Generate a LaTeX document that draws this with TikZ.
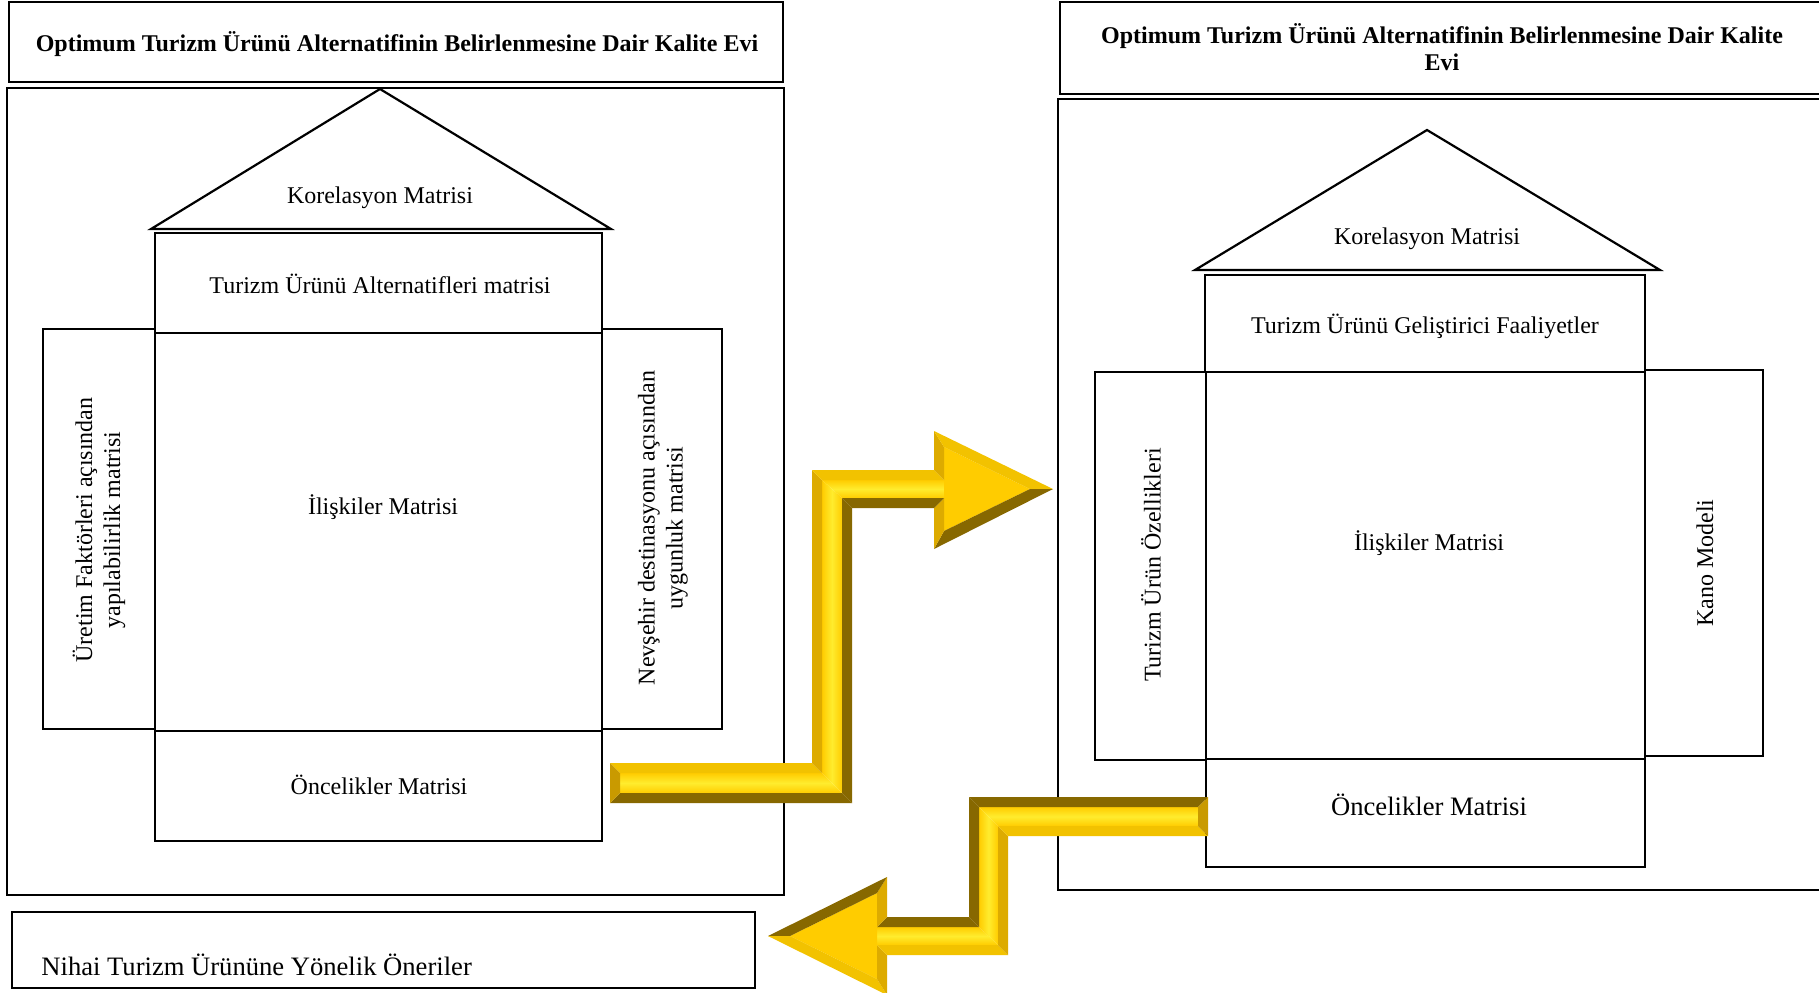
\documentclass[tikz,border=0pt]{standalone}
\usepackage{fontspec}
\setmainfont{Liberation Serif}
\definecolor{goldface}{HTML}{FFCC00}
\definecolor{goldshine}{HTML}{FFEC2E}
\definecolor{goldtop}{HTML}{F2C200}
\definecolor{goldside}{HTML}{DDAB00}
\definecolor{goldend}{HTML}{C99A00}
\definecolor{golddark}{HTML}{876800}
\tikzset{
  hqframe/.style={draw,line width=1.4pt},
  matline/.style={draw,line width=1.1pt},
  hqlab/.style={font=\fontsize{12}{14}\selectfont,inner sep=0pt},
  hqvlab/.style={hqlab,rotate=90,align=center},
  hqbig/.style={font=\fontsize{13.3}{15}\selectfont,inner sep=0pt},
  hqtitle/.style={font=\bfseries\fontsize{12}{13.4}\selectfont,align=center,inner sep=0pt},
  hbar/.style={top color=goldface,bottom color=goldface,middle color=goldshine},
  vbar/.style={left color=goldface,right color=goldface,middle color=goldshine}
}

\begin{document}
\begin{tikzpicture}[x=0.5pt,y=-0.5pt]
  \useasboundingbox (0,0) rectangle (1819,992);
  % left house
  \draw[hqframe] (9,2) rectangle (783,82);
  \draw[hqframe] (7,88) rectangle (784,895);
  \draw[matline] (380,89) -- (611,229) -- (151,229) -- cycle;
  \draw[matline] (155,233) rectangle (602,333);
  \draw[matline] (155,333) rectangle (602,731);
  \draw[matline] (43,329) rectangle (155,729);
  \draw[matline] (602,329) rectangle (722,729);
  \draw[matline] (155,731) rectangle (602,841);
  \draw[hqframe] (12,912) rectangle (755,988);
  \node[hqtitle] (ltitle) at (397,44) {Optimum Turizm Ürünü Alternatifinin Belirlenmesine Dair Kalite Evi};
  \node[hqlab] (lkor) at (380,198) {Korelasyon Matrisi};
  \node[hqlab] (lalt) at (380,284) {Turizm Ürünü Alternatifleri matrisi};
  \node[hqlab] (liliski) at (383,507) {İlişkiler Matrisi};
  \node[hqvlab] (luretim) at (99,530) {Üretim Faktörleri açısından\\yapılabilirlik matrisi};
  \node[hqvlab] (lnevsehir) at (663,528) {Nevşehir destinasyonu açısından\\uygunluk matrisi};
  \node[hqlab] (loncelik) at (379,785) {Öncelikler Matrisi};
  \node[hqbig,anchor=west] (oneriler) at (41,965) {Nihai Turizm Ürününe Yönelik Öneriler};
  % right house
  \draw[hqframe] (1060,2) rectangle (1830,94);
  \draw[hqframe] (1058,99) rectangle (1830,890);
  \draw[matline] (1427,130) -- (1660,270) -- (1195,270) -- cycle;
  \draw[matline] (1205,275) rectangle (1645,372);
  \draw[matline] (1206,372) rectangle (1645,759);
  \draw[matline] (1095,372) rectangle (1206,760);
  \draw[matline] (1645,370) rectangle (1763,756);
  \draw[matline] (1206,759) rectangle (1645,867);
  \node[hqtitle] (rtitle) at (1442,47) {Optimum Turizm Ürünü Alternatifinin Belirlenmesine Dair Kalite\\Evi};
  \node[hqlab] (rkor) at (1427,239) {Korelasyon Matrisi};
  \node[hqlab] (rfaal) at (1425,326) {Turizm Ürünü Geliştirici Faaliyetler};
  \node[hqlab] (riliski) at (1429,543) {İlişkiler Matrisi};
  \node[hqvlab] (rozellik) at (1151,565) {Turizm Ürün Özellikleri};
  \node[hqvlab] (rkano) at (1705,563) {Kano Modeli};
  \node[hqbig] (roncelik) at (1429,805) {Öncelikler Matrisi};
  % arrow from left house to right house
  \path (610,763) coordinate (a1) (812,763) coordinate (a2) (812,470) coordinate (a3)
        (934,470) coordinate (a4) (934,431) coordinate (a5) (1053,489) coordinate (a6)
        (934,549) coordinate (a7) (934,508) coordinate (a8) (852,508) coordinate (a9)
        (852,803) coordinate (a10) (610,803) coordinate (a11);
  \path (620,773) coordinate (b1) (822,773) coordinate (b2) (822,480) coordinate (b3)
        (944,480) coordinate (b4) (944,447) coordinate (b5) (1030,489) coordinate (b6)
        (944,531) coordinate (b7) (944,498) coordinate (b8) (842,498) coordinate (b9)
        (842,793) coordinate (b10) (620,793) coordinate (b11);
  \shade[hbar] (b1) -- (b2) -- (b10) -- (b11) -- cycle;
  \shade[vbar] (b2) -- (b3) -- (b9) -- (b10) -- cycle;
  \shade[hbar] (b3) -- (b4) -- (b8) -- (b9) -- cycle;
  \fill[goldface] (b4) -- (b5) -- (b6) -- (b7) -- (b8) -- cycle;
  \foreach \i/\j/\fc in {1/2/goldtop,2/3/goldside,3/4/goldtop,4/5/goldside,5/6/goldtop,6/7/golddark,
                          7/8/goldside,8/9/golddark,9/10/golddark,10/11/golddark,11/1/goldend}
    \fill[\fc] (a\i) -- (a\j) -- (b\j) -- (b\i) -- cycle;
  % arrow back to the proposals
  \path (1208,797) coordinate (c1) (969,797) coordinate (c2) (969,917) coordinate (c3)
        (887,917) coordinate (c4) (887,877) coordinate (c5) (768,936) coordinate (c6)
        (887,995) coordinate (c7) (887,955) coordinate (c8) (1008,955) coordinate (c9)
        (1008,836) coordinate (c10) (1208,836) coordinate (c11);
  \path (1198,807) coordinate (d1) (979,807) coordinate (d2) (979,927) coordinate (d3)
        (877,927) coordinate (d4) (877,893) coordinate (d5) (790,936) coordinate (d6)
        (877,979) coordinate (d7) (877,945) coordinate (d8) (998,945) coordinate (d9)
        (998,826) coordinate (d10) (1198,826) coordinate (d11);
  \shade[hbar] (d1) -- (d2) -- (d10) -- (d11) -- cycle;
  \shade[vbar] (d2) -- (d3) -- (d9) -- (d10) -- cycle;
  \shade[hbar] (d3) -- (d4) -- (d8) -- (d9) -- cycle;
  \fill[goldface] (d4) -- (d5) -- (d6) -- (d7) -- (d8) -- cycle;
  \foreach \i/\j/\fc in {1/2/golddark,2/3/golddark,3/4/golddark,4/5/goldside,5/6/golddark,6/7/goldtop,
                          7/8/goldside,8/9/goldtop,9/10/goldside,10/11/goldtop,11/1/goldend}
    \fill[\fc] (c\i) -- (c\j) -- (d\j) -- (d\i) -- cycle;
\end{tikzpicture}
\end{document}
